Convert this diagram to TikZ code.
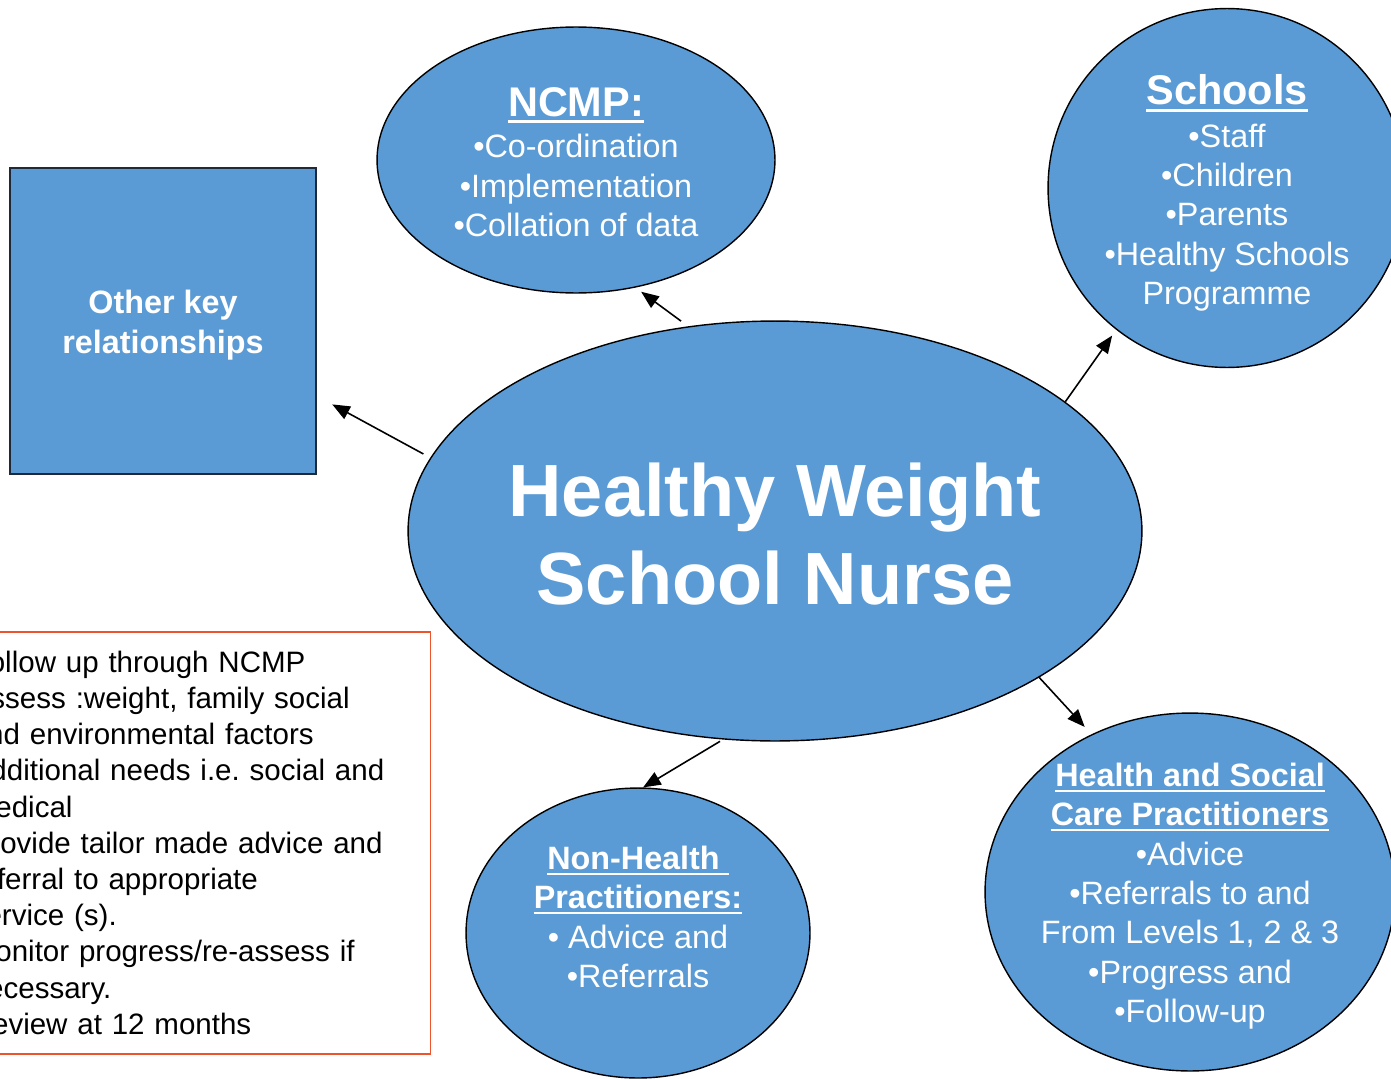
\documentclass[tikz,border=0pt]{standalone}
\usepackage{fontspec}
\setmainfont{Liberation Sans}
\usepackage{tikz}
\usetikzlibrary{positioning}
\usetikzlibrary{backgrounds}
\usetikzlibrary{shapes.geometric}
\usetikzlibrary{arrows.meta}

\definecolor{bubble}{RGB}{91,155,213}
\definecolor{boxline}{RGB}{30,42,58}
\definecolor{noteline}{RGB}{238,84,44}

\frenchspacing
\newcommand{\headline}[1]{\setbox0\hbox{#1}\rlap{\rule[-0.17em]{\wd0}{0.07em}}\box0}

\begin{document}
\begin{tikzpicture}[x=0.02cm,y=-0.02cm,
		bubble/.style = {draw,ellipse,fill = bubble,line width = 0.8pt,inner sep = 0pt},
		txt/.style = {text = white,align = center,inner sep = 0pt,font = \fontsize{18.4}{22.4}\selectfont},
		arr/.style = {-{Triangle[length = 10pt,width = 8pt]},line width = 0.9pt}]
		\useasboundingbox (0,0) rectangle (1391,1078);
		\clip (0,0) rectangle (1391,1078);
		% bubbles
		\node[bubble,minimum width = 14.68cm,minimum height = 8.4cm] at (775,531) (hw) {};
		\node[bubble,minimum width = 7.96cm,minimum height = 5.32cm] at (576,160) (ncmp) {};
		\node[bubble,minimum width = 7.16cm,minimum height = 7.18cm] at (1227,188) (sch) {};
		\node[bubble,minimum width = 8.2cm,minimum height = 7.16cm] at (1190,892) (hsc) {};
		\node[bubble,minimum width = 6.88cm,minimum height = 5.8cm] at (638,933) (nh) {};
		\node[draw = boxline,fill = bubble,rectangle,line width = 1.1pt,minimum width = 6.12cm,minimum height = 6.12cm] at (163,321) (okr) {};
		% texts
		\node[txt,font = \fontsize{18.4}{22.4}\selectfont\bfseries] at (163,325) (okrText) {Other key\\relationships};
		\node[txt,font = \fontsize{42.1}{49.9}\selectfont\bfseries] at (775,534) (hwText) {Healthy Weight\\School Nurse};
		\node[txt] at (576,162) (ncmpText) {{\fontsize{23.6}{28}\selectfont\bfseries\headline{NCMP:}}\\[1.3pt]•Co-ordination\\•Implementation\\•Collation of data};
		\node[txt] at (1227,193) (schText) {{\fontsize{23.6}{28}\selectfont\bfseries\headline{Schools}}\\[1.8pt]•Staff\\•Children\\•Parents\\•Healthy Schools\\Programme};
		\node[txt] at (1190,896) (hscText) {\textbf{\headline{Health and Social}}\\\textbf{\headline{Care Practitioners}}\\•Advice\\•Referrals to and\\From Levels 1, 2 \& 3\\•Progress and\\•Follow-up};
		\node[txt] at (638,917) (nhText) {\textbf{\headline{Non-Health\ }}\\\textbf{\headline{Practitioners:}}\\• Advice and\\•Referrals};
		% note
		\node[draw = noteline,line width = 0.9pt,rectangle,anchor = north west,inner xsep = 2pt,minimum width = 9.4cm,minimum height = 8.44cm,text width = 9.0cm,align = left,font = \fontsize{16.8}{20.6}\selectfont] at (-40,631) (note) {Follow up through NCMP\\Assess :weight, family social\\and environmental factors\\Additional needs i.e. social and\\medical\\Provide tailor made advice and\\referral to appropriate\\service (s).\\Monitor progress/re-assess if\\necessary.\\Review at 12 months};
		% arrows
		\draw[arr,shorten <= 4.5pt,shorten >= 9.9pt] (hw.168.6) to (okr.-26.1);
		\draw[arr,shorten <= 5pt,shorten >= 4pt] (hw.113.7) to (ncmp.-65);
		\draw[arr,shorten >= 4pt] (hw.24.5) to (sch.232);
		\draw[arr,shorten >= 5.7pt] (hw.-29.7) to (hsc.122.5);
		\draw[arr,shorten <= 2pt] (hw.-104.6) to (nh.88);
	\end{tikzpicture}
\end{document}
